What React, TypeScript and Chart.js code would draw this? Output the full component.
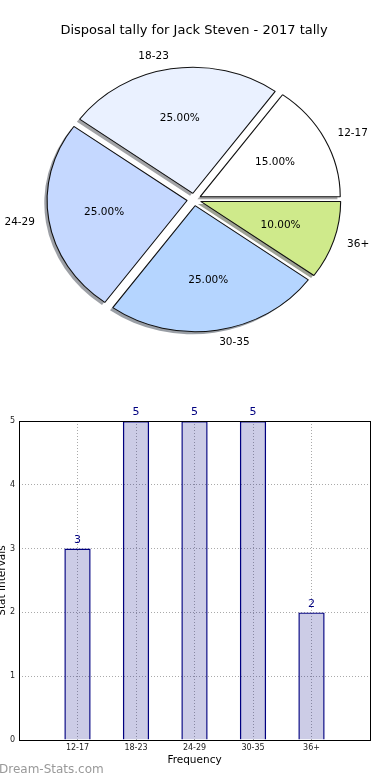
import React, { useEffect, useRef } from 'react';
import { Chart, registerables } from 'chart.js';

Chart.register(...registerables);

const TITLE = 'Disposal tally for Jack Steven - 2017 tally';
const CATEGORIES = ['12-17', '18-23', '24-29', '30-35', '36+'];
const COUNTS = [3, 5, 5, 5, 2];
const PIE_COLORS = ['#ffffff', '#eaf1ff', '#c5d8ff', '#b5d5ff', '#cfea8b'];
const Y_MIN = 0;
const Y_MAX = 5;
const X_TITLE = 'Frequency';
const Y_TITLE = 'Stat Intervals';
const WATERMARK = 'Dream-Stats.com';

const FONT = "'DejaVu Sans', sans-serif";
const SY = 0.9; // vertical squash of the pie (non-equal aspect)
const EXPLODE_PX = 7;

function hexToRgb(h: string) {
  const v = parseInt(h.slice(1), 16);
  return [(v >> 16) & 255, (v >> 8) & 255, v & 255];
}

const pieDecor = {
  id: 'pieDecor',
  beforeDatasetsDraw(chart: any) {
    const meta = chart.getDatasetMeta(0);
    const arcs = meta.data;
    if (!arcs.length) return;
    const ctx = chart.ctx;
    const cx = arcs[0].x;
    const cy = arcs[0].y;
    ctx.save();
    ctx.translate(-2.8, 2.5);
    ctx.translate(cx, cy);
    ctx.scale(1, SY);
    ctx.translate(-cx, -cy);
    arcs.forEach((arc: any) => {
      const mid = (arc.startAngle + arc.endAngle) / 2;
      const ox = cx + Math.cos(mid) * EXPLODE_PX;
      const oy = cy + Math.sin(mid) * EXPLODE_PX;
      const col = hexToRgb(arc.options.backgroundColor);
      ctx.fillStyle = `rgba(${Math.round(col[0] * 0.3)},${Math.round(col[1] * 0.3)},${Math.round(col[2] * 0.3)},0.5)`;
      ctx.beginPath();
      ctx.moveTo(ox, oy);
      ctx.arc(ox, oy, arc.outerRadius, arc.startAngle, arc.endAngle);
      ctx.closePath();
      ctx.fill();
    });
    ctx.restore();
  },
  beforeDatasetDraw(chart: any) {
    const meta = chart.getDatasetMeta(0);
    const arcs = meta.data;
    const ctx = chart.ctx;
    const cx = arcs[0].x;
    const cy = arcs[0].y;
    ctx.save();
    ctx.translate(cx, cy);
    ctx.scale(1, SY);
    ctx.translate(-cx, -cy);
    arcs.forEach((arc: any) => {
      const mid = (arc.startAngle + arc.endAngle) / 2;
      ctx.save();
      ctx.translate(Math.cos(mid) * EXPLODE_PX, Math.sin(mid) * EXPLODE_PX);
      arc.draw(ctx);
      ctx.restore();
    });
    ctx.restore();
    return false;
  },
  afterDraw(chart: any) {
    const meta = chart.getDatasetMeta(0);
    const arcs = meta.data;
    const ctx = chart.ctx;
    const ds = chart.data.datasets[0].data as number[];
    const labels = chart.data.labels as string[];
    const total = ds.reduce((a, b) => a + b, 0);
    ctx.save();
    ctx.font = `10.5px ${FONT}`;
    ctx.fillStyle = '#000';
    ctx.textBaseline = 'middle';
    arcs.forEach((arc: any, i: number) => {
      const mid = (arc.startAngle + arc.endAngle) / 2;
      const r = arc.outerRadius;
      const c = Math.cos(mid);
      const s = Math.sin(mid);
      const dl = EXPLODE_PX + 1.1 * r;
      ctx.textAlign = c > 0 ? 'left' : 'right';
      ctx.fillText(labels[i], arc.x + c * dl, arc.y + SY * s * dl);
      const dp = EXPLODE_PX + 0.6 * r;
      ctx.textAlign = 'center';
      ctx.fillText(((ds[i] / total) * 100).toFixed(2) + '%', arc.x + c * dp, arc.y + SY * s * dp);
    });
    ctx.restore();
  },
};

const barDecor = {
  id: 'barDecor',
  afterDatasetsDraw(chart: any) {
    const ctx = chart.ctx;
    const meta = chart.getDatasetMeta(0);
    const vals = chart.data.datasets[0].data as any[];
    ctx.save();
    ctx.font = `11px ${FONT}`;
    ctx.fillStyle = '#000080';
    ctx.textAlign = 'center';
    ctx.textBaseline = 'bottom';
    meta.data.forEach((bar: any, i: number) => {
      ctx.fillText(String(vals[i].y), bar.x, bar.y - 3);
    });
    ctx.restore();
  },
  afterDraw(chart: any) {
    const ctx = chart.ctx;
    const a = chart.chartArea;
    ctx.save();
    ctx.strokeStyle = '#000';
    ctx.lineWidth = 1;
    ctx.strokeRect(Math.round(a.left) + 0.5, Math.round(a.top) + 0.5, Math.round(a.right - a.left), Math.round(a.bottom - a.top));
    ctx.font = `12px ${FONT}`;
    ctx.fillStyle = '#999';
    ctx.textAlign = 'left';
    ctx.textBaseline = 'middle';
    ctx.fillText(WATERMARK, -1, chart.height - 10);
    ctx.restore();
  },
};

export default function App() {
  const pieRef = useRef<HTMLCanvasElement>(null);
  const barRef = useRef<HTMLCanvasElement>(null);

  useEffect(() => {
    Chart.defaults.font.family = FONT;
    const pieLabels = [...CATEGORIES].reverse();
    const pieValues = [...COUNTS].reverse();
    const pieColors = [...PIE_COLORS].reverse();

    const pie = new Chart(pieRef.current!, {
      type: 'pie',
      data: {
        labels: pieLabels,
        datasets: [
          {
            data: pieValues,
            backgroundColor: pieColors,
            borderColor: '#111',
            borderWidth: 1.1,
            radius: 140,
            rotation: 90,
            clip: false,
          } as any,
        ],
      },
      options: {
        responsive: false,
        animation: false,
        events: [],
        layout: { padding: { top: 0, left: 0, right: 2, bottom: 29.6 } },
        plugins: {
          legend: { display: false },
          tooltip: { enabled: false },
          title: {
            display: true,
            text: TITLE,
            color: '#000',
            font: { size: 13, weight: 'normal', family: FONT },
            padding: { top: 23, bottom: 10 },
          },
        },
      } as any,
      plugins: [pieDecor],
    });

    const bar = new Chart(barRef.current!, {
      type: 'bar',
      data: {
        datasets: [
          {
            data: COUNTS.map((v, i) => ({ x: i, y: v })),
            backgroundColor: 'rgba(0,0,128,0.2)',
            borderColor: '#000080',
            borderWidth: 1.4,
            barPercentage: 0.45,
            categoryPercentage: 1,
          },
        ],
      },
      options: {
        responsive: false,
        animation: false,
        events: [],
        layout: { padding: { top: 41, right: 20, left: 0, bottom: 0 } },
        plugins: { legend: { display: false }, tooltip: { enabled: false } },
        scales: {
          x: {
            type: 'linear',
            offset: false,
            min: -1,
            max: CATEGORIES.length,
            afterFit: (s: any) => {
              s.height = 40;
            },
            afterBuildTicks: (s: any) => {
              const t = [];
              for (let v = -1; v <= CATEGORIES.length; v++) t.push({ value: v });
              s.ticks = t;
            },
            ticks: {
              autoSkip: false,
              maxRotation: 0,
              padding: 3,
              color: '#222',
              font: { size: 8, family: FONT },
              callback: (v: any) => CATEGORIES[v] ?? '',
            },
            grid: { color: '#aaa', lineWidth: 1, tickLength: 0, drawTicks: false, offset: false },
            border: { display: false, dash: [1, 2] },
            title: {
              display: true,
              text: X_TITLE,
              color: '#000',
              font: { size: 10.5, family: FONT },
              padding: { top: 0, bottom: 13.4 },
            },
          },
          y: {
            type: 'linear',
            min: Y_MIN,
            max: Y_MAX,
            afterFit: (s: any) => {
              s.width = 19;
            },
            ticks: {
              stepSize: 1,
              padding: 4,
              color: '#222',
              font: { size: 8, family: FONT },
            },
            grid: { color: '#aaa', lineWidth: 1, tickLength: 0, drawTicks: false },
            border: { display: false, dash: [1, 2] },
            title: {
              display: true,
              text: Y_TITLE,
              color: '#000',
              font: { size: 10.5, family: FONT },
              padding: { top: -3.6, bottom: 0 },
            },
          },
        },
      } as any,
      plugins: [barDecor],
    });

    return () => {
      pie.destroy();
      bar.destroy();
    };
  }, []);

  return (
    <div style={{ position: 'absolute', left: 0, top: 0, width: 390, height: 780, background: '#fff' }}>
      <canvas ref={pieRef} width={390} height={380} style={{ position: 'absolute', left: 0, top: 0, display: 'block' }} />
      <canvas ref={barRef} width={390} height={400} style={{ position: 'absolute', left: 0, top: 380, display: 'block' }} />
    </div>
  );
}
